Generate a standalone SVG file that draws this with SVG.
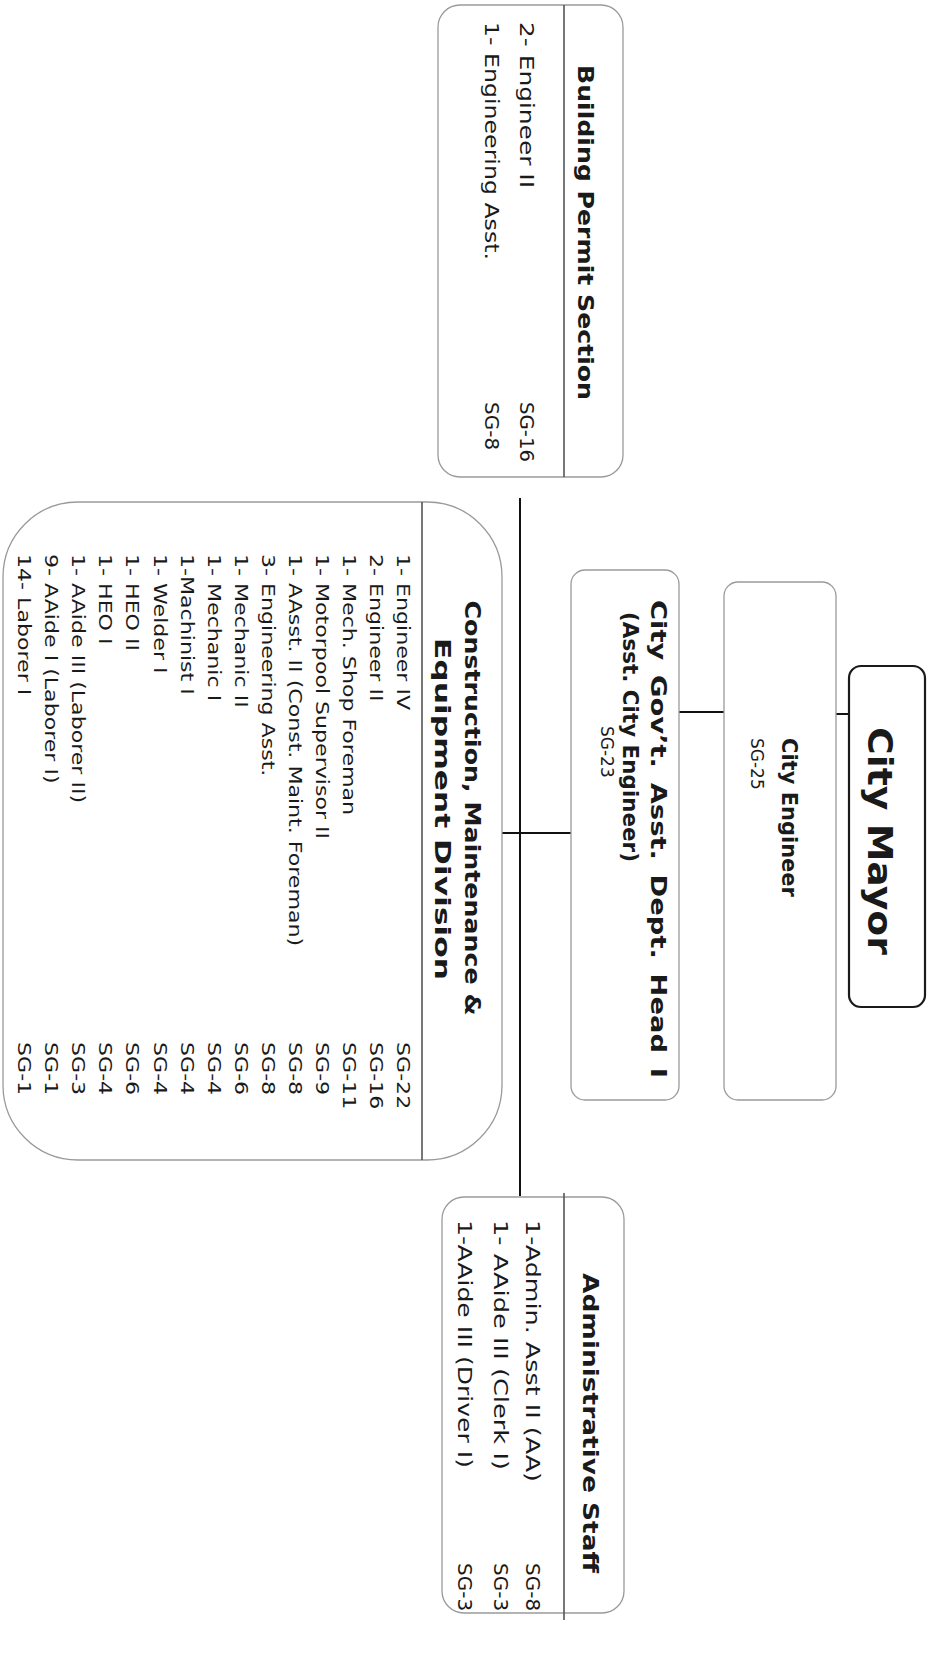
<svg xmlns="http://www.w3.org/2000/svg" width="930" height="1674" viewBox="0 0 930 1674">
<style>
.bg{fill:#ffffff}
.box{fill:#ffffff;stroke:#9a9a9a;stroke-width:1.3}
.mayor{fill:#ffffff;stroke:#1a1a1a;stroke-width:2.2}
.div{stroke:#555555;stroke-width:1.6;fill:none}
.con{stroke:#111111;stroke-width:2;fill:none}
text{font-family:"DejaVu Sans","Liberation Sans",sans-serif;fill:#1a1a1a}
.b{font-weight:bold}
.t22{font-size:22px}
.r20{font-size:20px}
.r17{font-size:17px}
</style>
<rect class="bg" x="0" y="0" width="930" height="1674"/>
<g id="connectors">
<line class="con" x1="836" y1="714" x2="849" y2="714"/>
<line class="con" x1="670" y1="712" x2="724" y2="712"/>
<line class="con" x1="486" y1="833" x2="571" y2="833"/>
<line class="con" x1="520" y1="498" x2="520" y2="1196"/>
</g>
<g id="city-mayor">
<rect class="mayor" x="849" y="666" width="76" height="341" rx="12"/>
<text class="b" font-size="33" transform="translate(868,727) rotate(90)" textLength="228" lengthAdjust="spacingAndGlyphs">City Mayor</text>
</g>
<g id="city-engineer">
<rect class="box" x="724" y="582" width="112" height="518" rx="14"/>
<text class="b" font-size="21" transform="translate(782,738) rotate(90)">City Engineer</text>
<text class="r17" transform="translate(751,738) rotate(90)">SG-25</text>
</g>
<g id="asst-city-engineer">
<rect class="box" x="571" y="570" width="108" height="530" rx="14"/>
<text class="b" font-size="21" word-spacing="4" transform="translate(651,600) rotate(90)" textLength="478" lengthAdjust="spacingAndGlyphs">City Gov’t. Asst. Dept. Head I</text>
<text class="b" font-size="21" transform="translate(623,612) rotate(90)" textLength="250" lengthAdjust="spacingAndGlyphs">(Asst. City Engineer)</text>
<text class="r17" transform="translate(601,726) rotate(90)">SG-23</text>
</g>
<g id="building-permit-section">
<rect class="box" x="438" y="5" width="185" height="472" rx="22"/>
<line class="div" x1="564" y1="5" x2="564" y2="477"/>
<text class="b t22" transform="translate(578,65) rotate(90)" textLength="335" lengthAdjust="spacingAndGlyphs">Building Permit Section</text>
<text class="r20" transform="translate(520,22) rotate(90)" textLength="166" lengthAdjust="spacingAndGlyphs">2- Engineer II</text>
<text class="r20" transform="translate(485,22) rotate(90)" textLength="238" lengthAdjust="spacingAndGlyphs">1- Engineering Asst.</text>
<text class="r20" transform="translate(520,402) rotate(90)" textLength="60" lengthAdjust="spacingAndGlyphs">SG-16</text>
<text class="r20" transform="translate(485,402) rotate(90)">SG-8</text>
</g>
<g id="construction-maintenance-equipment-division">
<rect class="box" x="3" y="502" width="499" height="658" rx="75"/>
<line class="div" x1="422" y1="502" x2="422" y2="1160"/>
<text class="b t22" text-anchor="middle" transform="translate(465,808) rotate(90)" textLength="415" lengthAdjust="spacingAndGlyphs">Construction, Maintenance &amp;</text>
<text class="b t22" text-anchor="middle" transform="translate(435,809) rotate(90)" textLength="342" lengthAdjust="spacingAndGlyphs">Equipment  Division</text>
<g class="r17">
<text transform="translate(397,554) rotate(90) scale(1.3,1)">1- Engineer  IV</text>
<text transform="translate(370,554) rotate(90) scale(1.3,1)">2- Engineer II</text>
<text transform="translate(343,554) rotate(90) scale(1.3,1)">1- Mech. Shop Foreman</text>
<text transform="translate(316,554) rotate(90) scale(1.3,1)">1- Motorpool Supervisor II</text>
<text transform="translate(289,554) rotate(90) scale(1.3,1)">1- AAsst. II (Const. Maint. Foreman)</text>
<text transform="translate(262,554) rotate(90) scale(1.3,1)">3- Engineering Asst.</text>
<text transform="translate(235,554) rotate(90) scale(1.3,1)">1- Mechanic II</text>
<text transform="translate(208,554) rotate(90) scale(1.3,1)">1- Mechanic I</text>
<text transform="translate(181,554) rotate(90) scale(1.3,1)">1-Machinist I</text>
<text transform="translate(154,554) rotate(90) scale(1.3,1)">1- Welder I</text>
<text transform="translate(126,554) rotate(90) scale(1.3,1)">1- HEO II</text>
<text transform="translate(99,554) rotate(90) scale(1.3,1)">1- HEO I</text>
<text transform="translate(72,554) rotate(90) scale(1.3,1)">1- AAide III (Laborer II)</text>
<text transform="translate(45,554) rotate(90) scale(1.3,1)">9- AAide I (Laborer I)</text>
<text transform="translate(18,554) rotate(90) scale(1.3,1)">14- Laborer I</text>
<text transform="translate(397,1042) rotate(90) scale(1.3,1)">SG-22</text>
<text transform="translate(370,1042) rotate(90) scale(1.3,1)">SG-16</text>
<text transform="translate(343,1042) rotate(90) scale(1.3,1)">SG-11</text>
<text transform="translate(316,1042) rotate(90) scale(1.3,1)">SG-9</text>
<text transform="translate(289,1042) rotate(90) scale(1.3,1)">SG-8</text>
<text transform="translate(262,1042) rotate(90) scale(1.3,1)">SG-8</text>
<text transform="translate(235,1042) rotate(90) scale(1.3,1)">SG-6</text>
<text transform="translate(208,1042) rotate(90) scale(1.3,1)">SG-4</text>
<text transform="translate(181,1042) rotate(90) scale(1.3,1)">SG-4</text>
<text transform="translate(154,1042) rotate(90) scale(1.3,1)">SG-4</text>
<text transform="translate(126,1042) rotate(90) scale(1.3,1)">SG-6</text>
<text transform="translate(99,1042) rotate(90) scale(1.3,1)">SG-4</text>
<text transform="translate(72,1042) rotate(90) scale(1.3,1)">SG-3</text>
<text transform="translate(45,1042) rotate(90) scale(1.3,1)">SG-1</text>
<text transform="translate(18,1042) rotate(90) scale(1.3,1)">SG-1</text>
</g>
</g>
<g id="administrative-staff">
<rect class="box" x="442" y="1197" width="182" height="416" rx="22"/>
<line class="div" x1="564" y1="1193" x2="564" y2="1620"/>
<text class="b t22" transform="translate(583,1273) rotate(90)" textLength="300" lengthAdjust="spacingAndGlyphs">Administrative Staff</text>
<text class="r20" transform="translate(526,1220) rotate(90)" textLength="262" lengthAdjust="spacingAndGlyphs">1-Admin. Asst II (AA)</text>
<text class="r20" transform="translate(494,1220) rotate(90)" textLength="250" lengthAdjust="spacingAndGlyphs">1- AAide III (Clerk I)</text>
<text class="r20" transform="translate(458,1220) rotate(90)" textLength="248" lengthAdjust="spacingAndGlyphs">1-AAide III (Driver I)</text>
<text class="r20" transform="translate(526,1563) rotate(90)">SG-8</text>
<text class="r20" transform="translate(494,1563) rotate(90)">SG-3</text>
<text class="r20" transform="translate(458,1563) rotate(90)">SG-3</text>
</g>
</svg>
